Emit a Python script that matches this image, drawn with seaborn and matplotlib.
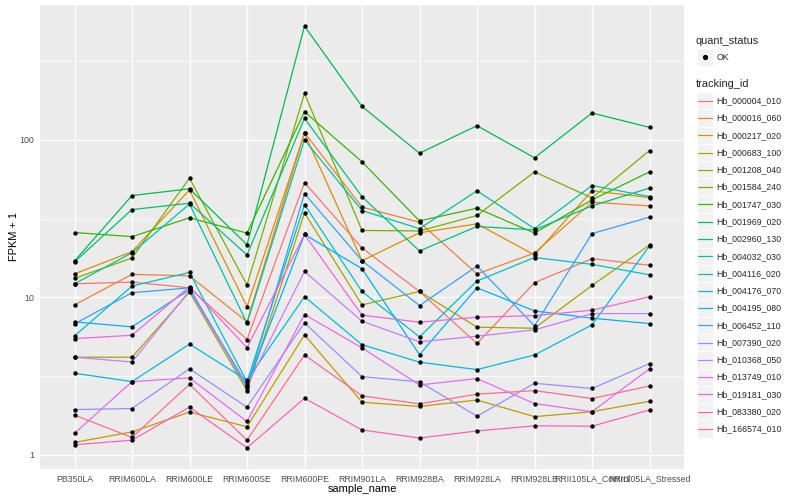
import numpy as np
import pandas as pd
import matplotlib
matplotlib.use("Agg")
import matplotlib.pyplot as plt
import seaborn as sns
from matplotlib.lines import Line2D
from matplotlib.patches import Rectangle
from matplotlib.ticker import NullFormatter, FixedLocator

samples = ["PB350LA", "RRIM600LA", "RRIM600LE", "RRIM600SE", "RRIM600PE",
           "RRIM901LA", "RRIM928BA", "RRIM928LA", "RRIM928LB",
           "RRII105LA_Control", "RRII105LA_Stressed"]

tracking_ids = ["Hb_000004_010", "Hb_000016_060", "Hb_000217_020", "Hb_000683_100",
                "Hb_001208_040", "Hb_001584_240", "Hb_001747_030", "Hb_001969_020",
                "Hb_002960_130", "Hb_004032_030", "Hb_004116_020", "Hb_004176_070",
                "Hb_004195_080", "Hb_006452_110", "Hb_007390_020", "Hb_010368_050",
                "Hb_013749_010", "Hb_019181_030", "Hb_083380_020", "Hb_166574_010"]

# FPKM + 1, one list per gene (same order as samples)
hb_000004_010 = [12.2, 12.5, 11.5, 5.4, 53.6, 20.6, 10.9, 5.1, 12.4, 17.6, 16.0]
hb_000016_060 = [8.96, 14.0, 13.7, 7.0, 111, 37.4, 30.0, 14.1, 19.1, 40.2, 38.1]
hb_000217_020 = [14.1, 19.5, 48.1, 8.74, 110, 17.1, 25.7, 29.3, 18.6, 47.5, 43.0]
hb_000683_100 = [1.20, 1.40, 1.87, 1.51, 5.78, 2.16, 2.03, 2.23, 1.75, 1.88, 2.19]
hb_001208_040 = [4.17, 4.17, 10.8, 2.56, 34.4, 8.96, 10.9, 6.47, 6.37, 11.9, 21.5]
hb_001584_240 = [13.2, 17.8, 57.1, 12.0, 197, 26.6, 26.4, 33.1, 62.6, 42.8, 85.5]
hb_001747_030 = [25.8, 24.3, 32.0, 25.6, 151, 72.5, 30.6, 36.8, 25.6, 41.6, 62.6]
hb_001969_020 = [17.0, 44.3, 48.9, 21.6, 527, 163, 82.3, 123, 76.9, 148, 120]
hb_002960_130 = [16.8, 36.1, 39.6, 18.6, 137, 43.6, 19.7, 28.2, 26.8, 38.1, 49.4]
hb_004032_030 = [12.2, 19.2, 39.1, 6.86, 100, 35.6, 27.3, 47.5, 27.3, 51.3, 43.6]
hb_004116_020 = [5.69, 11.8, 14.4, 2.91, 38.8, 10.9, 5.61, 12.7, 17.9, 16.2, 13.9]
hb_004176_070 = [3.30, 2.92, 5.05, 2.98, 10.1, 5.01, 3.88, 3.48, 4.31, 6.69, 21.2]
hb_004195_080 = [6.99, 6.50, 11.2, 2.78, 25.1, 15.2, 4.33, 11.5, 8.21, 7.38, 6.82]
hb_006452_110 = [6.79, 10.7, 11.5, 2.66, 45.6, 17.1, 8.87, 15.8, 6.59, 25.4, 32.3]
hb_007390_020 = [1.94, 1.97, 3.52, 2.01, 6.89, 3.14, 2.91, 1.76, 2.85, 2.64, 3.80]
hb_010368_050 = [4.17, 3.89, 11.0, 2.74, 14.6, 7.06, 5.22, 5.67, 6.22, 7.89, 7.89]
hb_013749_010 = [1.37, 2.92, 3.08, 1.63, 7.78, 4.78, 2.78, 3.05, 2.12, 1.88, 3.52]
hb_019181_030 = [5.47, 5.75, 11.7, 4.80, 25.1, 7.71, 6.96, 7.49, 7.66, 8.29, 10.1]
hb_083380_020 = [1.16, 1.24, 2.01, 1.11, 2.29, 1.44, 1.28, 1.42, 1.53, 1.52, 1.93]
hb_166574_010 = [1.79, 1.29, 2.81, 1.24, 4.31, 2.37, 2.11, 2.43, 2.56, 2.28, 2.74]

series = [hb_000004_010, hb_000016_060, hb_000217_020, hb_000683_100, hb_001208_040,
          hb_001584_240, hb_001747_030, hb_001969_020, hb_002960_130, hb_004032_030,
          hb_004116_020, hb_004176_070, hb_004195_080, hb_006452_110, hb_007390_020,
          hb_010368_050, hb_013749_010, hb_019181_030, hb_083380_020, hb_166574_010]

# ggplot2 default hue palette for 20 levels
colors = ["#F8766D", "#EA8331", "#D89000", "#C09B00", "#A3A500", "#7CAE00", "#39B600",
          "#00BB4E", "#00BF7D", "#00C1A3", "#00BFC4", "#00BAE0", "#00B0F6", "#35A2FF",
          "#9590FF", "#C77CFF", "#E76BF3", "#FA62DB", "#FF62BC", "#FF6C91"]

rows = []
for tid, vals in zip(tracking_ids, series):
    for i, v in enumerate(vals):
        rows.append({"tracking_id": tid, "pos": i, "sample_name": samples[i], "fpkm": v})
df = pd.DataFrame(rows)

sns.set_theme(style="white")
plt.rcParams["font.family"] = ["Liberation Sans", "DejaVu Sans"]

fig = plt.figure(figsize=(8, 5), dpi=100)
ax = fig.add_axes([40 / 800, 1 - 468.7 / 500, 644 / 800, 463.7 / 500])
ax.set_facecolor("#EBEBEB")

sns.lineplot(data=df, x="pos", y="fpkm", hue="tracking_id", hue_order=tracking_ids,
             palette=colors, estimator=None, sort=False, linewidth=0.9,
             legend=False, ax=ax)
sns.scatterplot(data=df, x="pos", y="fpkm", color="black", s=10, linewidth=0,
                legend=False, ax=ax, zorder=3)

ax.set_yscale("log")
ax.set_ylim(10 ** -0.0875, 10 ** 2.856)
ax.set_xlim(-0.6, 10.6)
ax.set_xticks(range(len(samples)))
ax.set_xticklabels(samples)
ax.yaxis.set_major_locator(FixedLocator([1, 10, 100]))
ax.set_yticklabels(["1", "10", "100"])
ax.yaxis.set_minor_locator(FixedLocator([10 ** 0.5, 10 ** 1.5, 10 ** 2.5]))
ax.yaxis.set_minor_formatter(NullFormatter())

ax.grid(which="major", color="white", linewidth=1.0)
ax.grid(which="minor", axis="y", color="white", linewidth=0.5)
ax.set_axisbelow(True)
for sp in ax.spines.values():
    sp.set_visible(False)

ax.tick_params(which="major", length=2.7, width=0.7, color="#333333",
               labelsize=6.3, labelcolor="#4D4D4D", pad=1.5)
ax.tick_params(which="minor", length=0)

ax.set_xlabel("sample_name", fontsize=7.9, color="black", labelpad=0.5)
ax.set_ylabel("FPKM + 1", fontsize=7.9, color="black", labelpad=0.5)


# legend, drawn in pixel positions like ggplot's guide boxes
def fx(px):
    return px / 800


def fy(py):
    return 1 - py / 500


key_w, key_h = 16.5, 17.3
fig.text(fx(696), fy(40.7), "quant_status", fontsize=7.9, va="center", ha="left")
fig.add_artist(Rectangle((fx(696.5), fy(57.3 + key_h / 2)), key_w / 800, key_h / 500,
                         transform=fig.transFigure, facecolor="#F2F2F2",
                         edgecolor="white", linewidth=0.6))
fig.add_artist(Line2D([fx(704.7)], [fy(57.3)], marker="o", markersize=2.8,
                      color="black", linestyle="none", transform=fig.transFigure))
fig.text(fx(716.5), fy(57.3), "OK", fontsize=6.3, va="center", ha="left")

fig.text(fx(696), fy(84.3), "tracking_id", fontsize=7.9, va="center", ha="left")
for i, (tid, c) in enumerate(zip(tracking_ids, colors)):
    yc = 100.7 + 17.28 * i
    fig.add_artist(Rectangle((fx(696.5), fy(yc + key_h / 2)), key_w / 800, key_h / 500,
                             transform=fig.transFigure, facecolor="#F2F2F2",
                             edgecolor="white", linewidth=0.6))
    fig.add_artist(Line2D([fx(698.3), fx(711.7)], [fy(yc), fy(yc)], color=c,
                          linewidth=0.9, transform=fig.transFigure))
    fig.text(fx(716.5), fy(yc), tid, fontsize=6.3, va="center", ha="left")

fig.savefig("out.png", dpi=100)
